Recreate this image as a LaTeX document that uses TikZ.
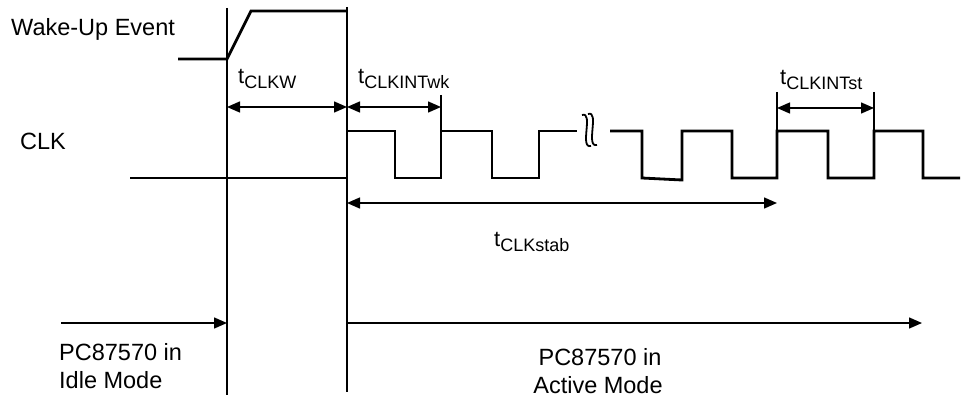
\documentclass[tikz,border=0pt]{standalone}
\usepackage{fontspec}
\setmainfont{Liberation Sans}
\usetikzlibrary{arrows.meta}
\newcommand{\tlab}[1]{\fontsize{22}{24}\selectfont t\raisebox{-5pt}{\fontsize{18}{20}\selectfont #1}}
\begin{document}
\begin{tikzpicture}[x=1pt,y=-1pt,
  thinln/.style={line width=1.2pt},
  wave/.style={line width=2.8pt, line join=miter},
  dimarr/.style={line width=1.4pt, {Triangle[length=13pt,width=11pt]}-{Triangle[length=13pt,width=11pt]}},
  fwdarr/.style={line width=1.4pt, -{Triangle[length=13pt,width=11pt]}},
  lbl/.style={inner sep=0pt, anchor=base west, font=\fontsize{23.5}{28}\selectfont},
  lblc/.style={inner sep=0pt, anchor=base, font=\fontsize{23.5}{28}\selectfont}]
\useasboundingbox (0,0) rectangle (963,398);

% vertical reference lines
\coordinate (v1t) at (227,8);  \coordinate (v1b) at (227,395);
\coordinate (v2t) at (347,7);  \coordinate (v2b) at (347,392);
\draw[thinln] (v1t) -- (v1b);
\draw[thinln] (v2t) -- (v2b);

% wake-up event signal
\coordinate (w0) at (178,59); \coordinate (w1) at (227,59);
\coordinate (w2) at (251,11); \coordinate (w3) at (347,11);
\draw[wave] (w0) -- (w1) -- (w2) -- (w3);

% CLK waveform
\draw[wave] (130,178) -- (347,178) -- (347,131) -- (395,131) -- (395,178)
  -- (441,178) -- (441,131) -- (492,131) -- (492,178) -- (539,178)
  -- (539,131) -- (577,131);
\draw[wave] (610,131) -- (642,131) -- (642,178) -- (682,180) -- (682,131)
  -- (732,131) -- (732,178) -- (777,178) -- (777,131) -- (828,131)
  -- (828,178) -- (874,178) -- (874,131) -- (923,131) -- (923,178) -- (960,178);

% break symbol
\draw[line width=1.8pt] (582,115) .. controls (594,111) and (579,149) .. (591,146);
\draw[line width=1.8pt] (588,114) .. controls (600,110) and (585,148) .. (597,145);

% tick lines
\coordinate (k1t) at (441,95);  \coordinate (k1b) at (441,131);
\coordinate (k2t) at (777,92);  \coordinate (k2b) at (777,131);
\coordinate (k3t) at (874,92);  \coordinate (k3b) at (874,131);
\draw[thinln] (k1t) -- (k1b);
\draw[thinln] (k2t) -- (k2b);
\draw[thinln] (k3t) -- (k3b);

% dimension arrows
\coordinate (a1) at (227,107); \coordinate (a2) at (347,107); \coordinate (a3) at (441,107);
\draw[dimarr] (a1) -- (a2);
\draw[dimarr] (a2) -- (a3);
\coordinate (b1) at (777,108); \coordinate (b2) at (874,108);
\draw[dimarr] (b1) -- (b2);
\coordinate (s1) at (347,203); \coordinate (s2) at (777,203);
\draw[dimarr] (s1) -- (s2);

% mode arrows
\coordinate (i0) at (61,323); \coordinate (i1) at (227,323);
\draw[fwdarr] (i0) -- (i1);
\coordinate (m0) at (347,323); \coordinate (m1) at (922,323);
\draw[fwdarr] (m0) -- (m1);

% labels
\node[lbl] (wake) at (11,36) {Wake-Up Event};
\node[lbl] (clk) at (20,150) {CLK};
\node[lbl] (lw) at (238,84) {\tlab{CLKW}};
\node[lbl] (lwk) at (358,84) {\tlab{CLKINTwk}};
\node[lbl] (lst) at (780,85) {\tlab{CLKINTst}};
\node[lbl] (lstab) at (494,246) {\tlab{CLKstab}};
\node[lbl] (idle1) at (59,360) {PC87570 in};
\node[lbl] (idle2) at (59,388) {Idle Mode};
\node[lblc] (act1) at (600,365) {PC87570 in};
\node[lblc] (act2) at (598,393) {Active Mode};
\end{tikzpicture}
\end{document}
